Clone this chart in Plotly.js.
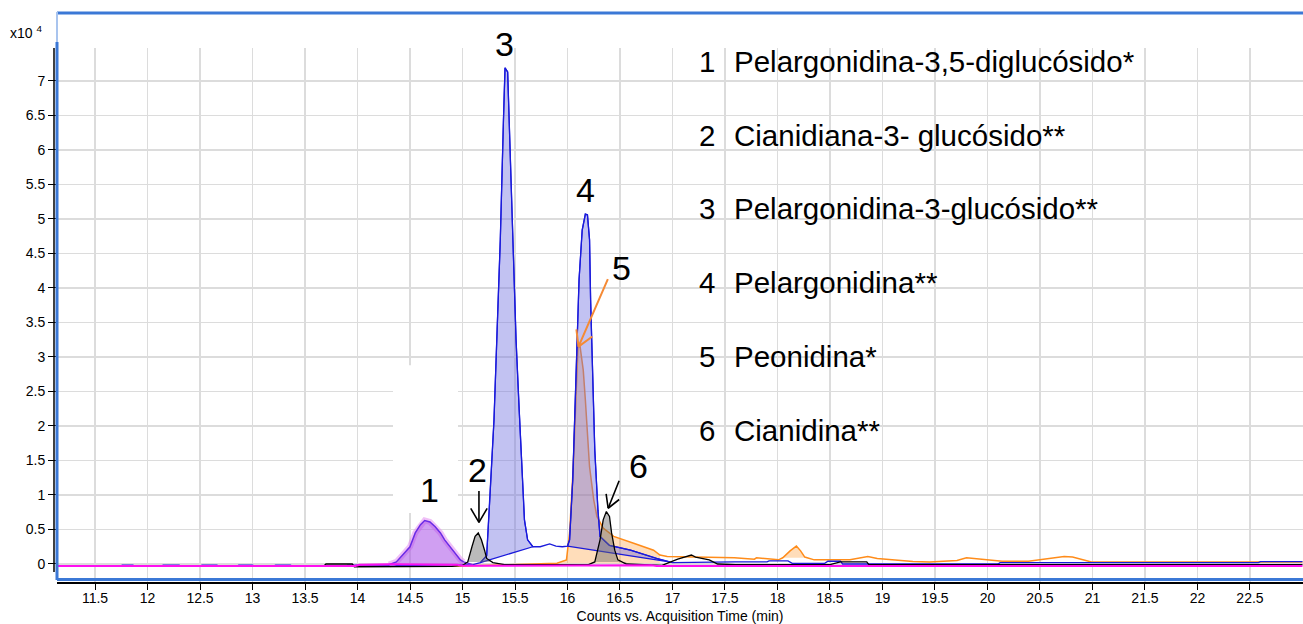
<!DOCTYPE html>
<html>
<head>
<meta charset="utf-8">
<script src="https://cdn.plot.ly/plotly-3.0.1.min.js"></script>
<style>
  html, body { margin: 0; padding: 0; background: #fff; }
  #chart { width: 1303px; height: 624px; }
</style>
</head>
<body>
<div id="chart"></div>
<script>
// Extracted-ion chromatograms: retention time (min) vs abundance (x10^4 counts)

// Pelargonidin-3,5-diglucoside channel (violet)
const timeViolet   = [13.90, 14.30, 14.37, 14.43, 14.50, 14.55, 14.60, 14.64, 14.69, 14.74, 14.79, 14.83, 14.88, 14.93, 14.98, 15.01, 15.10];
const countsViolet = [-0.02, -0.01, 0.03, 0.13, 0.25, 0.45, 0.57, 0.63, 0.61, 0.54, 0.45, 0.35, 0.25, 0.15, 0.06, 0.03, -0.01];

// Pelargonidin-3-glucoside / pelargonidin channel (blue)
const timeBlue   = [11.14, 11.74, 11.76, 11.86, 11.88, 12.13, 12.15, 12.30, 12.32, 12.50, 12.52, 12.66, 12.68, 12.85, 12.87, 13.00, 13.02, 13.20, 13.22, 13.36, 13.38, 14.00,
                    15.10, 15.17, 15.23, 15.26, 15.30, 15.33, 15.36, 15.39, 15.405, 15.43, 15.45, 15.48, 15.51, 15.54, 15.57, 15.59, 15.62, 15.67,
                    15.74, 15.83, 15.89, 15.95, 16.00, 16.02, 16.05, 16.08, 16.11, 16.14, 16.17, 16.19, 16.21, 16.22, 16.24, 16.26, 16.29, 16.31, 16.40, 16.60, 16.85, 16.97,
                    17.00, 17.59, 17.90, 17.92, 18.10, 18.14, 18.45, 18.48, 18.60, 18.62, 20.10, 20.12, 22.58, 22.60, 23.00];
const countsBlue = [-0.03, -0.03, -0.015, -0.015, -0.03, -0.03, -0.015, -0.015, -0.03, -0.03, -0.015, -0.015, -0.03, -0.03, -0.015, -0.015, -0.03, -0.03, -0.015, -0.015, -0.03, -0.03,
                    -0.01, 0.02, 0.12, 0.93, 2.09, 3.40, 4.70, 6.43, 7.19, 7.13, 6.14, 4.55, 3.25, 2.23, 1.20, 0.64, 0.35, 0.25,
                    0.25, 0.29, 0.26, 0.25, 0.26, 0.35, 1.22, 2.67, 4.12, 4.84, 5.07, 5.06, 4.70, 3.83, 2.67, 1.65, 0.78, 0.40, 0.27, 0.20, 0.08, 0.03,
                    0.02, 0.03, 0.03, 0.045, 0.045, 0.01, 0.01, 0.04, 0.04, 0.0, 0.0, 0.02, 0.02, 0.035, 0.035];

// Cyanidin-3-glucoside / cyanidin channel (black)
const timeBlack   = [11.14, 13.68, 13.70, 13.95, 13.97, 14.90, 15.00, 15.05, 15.09, 15.12, 15.15, 15.18, 15.21, 15.23, 15.29, 15.40, 15.90, 16.20,
                     16.26, 16.31, 16.34, 16.37, 16.40, 16.42, 16.45, 16.48, 16.56, 16.70, 16.90, 17.05, 17.18, 17.22, 17.35, 17.43, 17.60,
                     18.50, 18.60, 18.85, 18.87, 23.00];
const countsBlack = [-0.03, -0.03, 0.0, 0.0, -0.04, -0.035, -0.02, 0.03, 0.25, 0.40, 0.45, 0.35, 0.20, 0.08, 0.02, -0.01, -0.01, -0.01,
                     0.03, 0.35, 0.64, 0.76, 0.69, 0.45, 0.20, 0.06, 0.00, -0.01, -0.02, 0.07, 0.13, 0.10, 0.06, 0.00, -0.01,
                     -0.01, 0.03, 0.03, -0.01, -0.01];

// Peonidin channel (orange)
const timeOrange   = [11.14, 15.00, 15.90, 15.99, 16.02, 16.055, 16.08, 16.09, 16.10, 16.12, 16.15, 16.17, 16.19, 16.21, 16.25, 16.28, 16.34, 16.44,
                      16.63, 16.82, 16.88, 16.95, 17.59, 17.78, 17.80, 18.01, 18.05, 18.12, 18.18, 18.22, 18.26, 18.35, 18.69, 18.86, 18.95,
                      19.29, 19.45, 19.71, 19.80, 19.92, 20.14, 20.39, 20.56, 20.73, 20.81, 20.99, 23.00];
const countsOrange = [-0.03, -0.03, 0.01, 0.06, 0.45, 1.41, 2.38, 2.81, 3.14, 3.15, 2.81, 2.38, 1.90, 1.41, 0.93, 0.69, 0.52, 0.40,
                      0.30, 0.20, 0.13, 0.11, 0.09, 0.07, 0.09, 0.06, 0.09, 0.19, 0.26, 0.19, 0.10, 0.06, 0.06, 0.11, 0.08,
                      0.035, 0.03, 0.05, 0.09, 0.07, 0.04, 0.04, 0.07, 0.11, 0.10, 0.03, 0.03];

// Reference trace (magenta)
const timeMagenta   = [11.14, 13.98, 14.02, 14.30, 14.95, 15.00, 16.80, 16.85, 23.00];
const countsMagenta = [-0.03, -0.03, -0.01, -0.005, -0.01, -0.025, -0.02, -0.03, -0.03];

// Compound list
const peakNumbers = ['1', '2', '3', '4', '5', '6'];
const compoundNames = [
  'Pelargonidina-3,5-diglucósido*',
  'Cianidiana-3- glucósido**',
  'Pelargonidina-3-glucósido**',
  'Pelargonidina**',
  'Peonidina*',
  'Cianidina**'
];

// Axis ticks
const xTicks = [11.5, 12, 12.5, 13, 13.5, 14, 14.5, 15, 15.5, 16, 16.5, 17, 17.5, 18, 18.5, 19, 19.5, 20, 20.5, 21, 21.5, 22, 22.5];
const xTickText = ['11.5', '12', '12.5', '13', '13.5', '14', '14.5', '15', '15.5', '16', '16.5', '17', '17.5', '18', '18.5', '19', '19.5', '20', '20.5', '21', '21.5', '22', '22.5'];
const yTicks = [0, 0.5, 1, 1.5, 2, 2.5, 3, 3.5, 4, 4.5, 5, 5.5, 6, 6.5, 7];
const yTickText = ['0', '0.5', '1', '1.5', '2', '2.5', '3', '3.5', '4', '4.5', '5', '5.5', '6', '6.5', '7'];

// ---- helpers ----
const W = 1303, H = 624, ML = 57, MT = 48, MB = 42;
const plotW = W - ML, plotH = H - MT - MB;
const paperX = px => (px - ML) / plotW;
const paperY = py => (H - MB - py) / plotH;

// Integrated peak area between t0 and t1; 'slope' closes with a straight
// baseline between the end points, 'flat' drops to the starting level.
function peakArea(t, c, t0, t1, mode) {
  const xs = [], ys = [];
  t.forEach((v, i) => { if (v >= t0 && v <= t1) { xs.push(v); ys.push(c[i]); } });
  if (mode === 'flat') { xs.push(xs[xs.length - 1]); ys.push(ys[0]); }
  xs.push(xs[0]); ys.push(ys[0]);
  return { xs, ys };
}
function apex(t, c, t0, t1) {
  let best = null;
  t.forEach((v, i) => { if (v >= t0 && v <= t1 && (!best || c[i] > best.y)) best = { x: v, y: c[i] }; });
  return best;
}
function areaTrace(a, fill, lineColor, lineWidth) {
  return { type: 'scatter', mode: 'lines', x: a.xs, y: a.ys, fill: 'toself', fillcolor: fill,
           line: { color: lineColor || 'rgba(0,0,0,0)', width: lineWidth || 0 }, hoverinfo: 'skip' };
}
function lineTrace(x, y, color, width) {
  return { type: 'scatter', mode: 'lines', x, y, line: { color, width }, hoverinfo: 'skip' };
}

const BLUE = '#1a1adb', ORANGE = '#ff8c1a', VIOLET = '#6a2be6', MAGENTA = '#ff10f0';
const blueFill = 'rgba(110,110,225,0.42)';
const orangeFill = 'rgba(255,150,40,0.32)';
const grayFill = 'rgba(105,105,105,0.45)';

const p1 = peakArea(timeViolet, countsViolet, 14.30, 15.05, 'flat');
const p2 = peakArea(timeBlack, countsBlack, 15.04, 15.30, 'flat');
const p3 = peakArea(timeBlue, countsBlue, 15.17, 15.68, 'slope');
const p4 = peakArea(timeBlue, countsBlue, 15.99, 16.98, 'slope');
const p5 = peakArea(timeOrange, countsOrange, 15.89, 16.90, 'flat');
const p5b = peakArea(timeOrange, countsOrange, 18.04, 18.30, 'flat');
const p6 = peakArea(timeBlack, countsBlack, 16.25, 16.57, 'flat');

const traces = [
  areaTrace(p5, orangeFill),
  areaTrace(p5b, orangeFill),
  lineTrace(timeOrange, countsOrange, ORANGE, 1.5),
  areaTrace(p4, blueFill, BLUE, 1.2),
  areaTrace(p3, blueFill, BLUE, 1.2),
  lineTrace(timeBlue, countsBlue, BLUE, 1.3),
  lineTrace(p1.xs.slice(0, -2), p1.ys.slice(0, -2), 'rgba(228,140,240,0.55)', 6),
  areaTrace(p1, 'rgba(170,80,232,0.55)'),
  lineTrace(timeViolet, countsViolet, VIOLET, 1.5),
  areaTrace(p2, grayFill),
  areaTrace(p6, grayFill),
  lineTrace(timeBlack, countsBlack, '#000000', 1.3),
  lineTrace(timeMagenta, countsMagenta, MAGENTA, 2)
];

// ---- annotations ----
const FONT = 'Liberation Sans, Arial, Helvetica, sans-serif';
const annotations = [];

function label(pt, text, dx, dy) {
  annotations.push({ x: pt.x, y: pt.y, xref: 'x', yref: 'y', xshift: dx, yshift: dy, text, showarrow: false,
                     xanchor: 'center', yanchor: 'middle', font: { family: FONT, size: 34, color: '#000' } });
}
// arrow drawn as a shaft plus two arms forming an open head
function arrow(pt, dx, dy, ax, ay, armLen, half, color, width) {
  const base = { x: pt.x, y: pt.y, xref: 'x', yref: 'y', xshift: dx, yshift: dy, text: '', showarrow: true,
                 arrowhead: 0, arrowcolor: color, arrowwidth: width, standoff: 0 };
  annotations.push(Object.assign({}, base, { ax, ay }));
  const th = Math.atan2(ay, ax);
  [th + half, th - half].forEach(a => {
    annotations.push(Object.assign({}, base, { ax: armLen * Math.cos(a), ay: armLen * Math.sin(a) }));
  });
}

const a1 = apex(timeViolet, countsViolet, 14.3, 15.05);
const a2 = apex(timeBlack, countsBlack, 15.0, 15.3);
const a3 = apex(timeBlue, countsBlue, 15.2, 15.7);
const a4 = apex(timeBlue, countsBlue, 16.0, 16.5);
const a5 = apex(timeOrange, countsOrange, 15.9, 16.5);
const a6 = apex(timeBlack, countsBlack, 16.25, 16.6);

label(a1, peakNumbers[0], 5, 31);
label(a2, peakNumbers[1], -1, 63);
label(a3, peakNumbers[2], -1, 24);
label(a4, peakNumbers[3], 0, 24);
label(a5, peakNumbers[4], 41, 79);
label(a6, peakNumbers[5], 32, 46);

arrow(a2, 0.7, 10.5, 0, -33, 18, 0.53, '#000000', 1.6);
arrow(a6, 1.8, 3.3, 11.6, -29, 16, 0.52, '#000000', 1.6);
arrow(a5, -1.6, 0, 30, -69, 19, 0.53, '#f58a35', 2);

// compound list
const rowY = [62, 136, 209, 282, 356, 430];
peakNumbers.forEach((n, i) => {
  annotations.push({ xref: 'paper', yref: 'paper', x: paperX(697), y: paperY(rowY[i]), text: n, showarrow: false,
                     xanchor: 'left', yanchor: 'middle', font: { family: FONT, size: 29.5, color: '#000' } });
  annotations.push({ xref: 'paper', yref: 'paper', x: paperX(732), y: paperY(rowY[i]), text: compoundNames[i], showarrow: false,
                     xanchor: 'left', yanchor: 'middle', font: { family: FONT, size: 29.5, color: '#000' } });
});

// y-axis multiplier
annotations.push({ xref: 'paper', yref: 'paper', x: paperX(8), y: paperY(32), text: 'x10 <sup>4</sup>', showarrow: false,
                   xanchor: 'left', yanchor: 'middle', font: { family: FONT, size: 14, color: '#000' } });

// ---- frame ----
const BORDER = '#3b78d6';
const shapes = [
  { type: 'rect', xref: 'x', yref: 'y', x0: 14.338, x1: 14.957, y0: 0.74, y1: 2.88, fillcolor: '#ffffff', line: { width: 0 }, layer: 'between' },
  { type: 'line', xref: 'paper', yref: 'paper', x0: 0, x1: 1.05, y0: paperY(13), y1: paperY(13), line: { color: BORDER, width: 3 } },
  { type: 'line', xref: 'paper', yref: 'paper', x0: 0, x1: 1.05, y0: paperY(579.5), y1: paperY(579.5), line: { color: BORDER, width: 3 } },
  { type: 'line', xref: 'paper', yref: 'paper', x0: 0, x1: 0, y0: paperY(580), y1: paperY(42), line: { color: BORDER, width: 3 } },
  { type: 'line', xref: 'paper', yref: 'paper', x0: 0, x1: 0, y0: paperY(42), y1: paperY(12), line: { color: '#a9c4ee', width: 2 } },
  { type: 'line', xref: 'paper', yref: 'paper', x0: paperX(54), x1: paperX(54), y0: paperY(572), y1: 1, line: { color: '#000', width: 1.5 } }
];

const layout = {
  width: W, height: H,
  margin: { l: ML, r: 0, t: MT, b: MB, pad: 0 },
  paper_bgcolor: '#ffffff', plot_bgcolor: '#ffffff',
  showlegend: false,
  font: { family: FONT, size: 14, color: '#000' },
  xaxis: {
    range: [11.138, 23.005], tickmode: 'array', tickvals: xTicks, ticktext: xTickText,
    ticks: 'outside', ticklen: 6, tickwidth: 1, tickcolor: '#000', ticklabelstandoff: -3,
    showline: true, linecolor: '#000', linewidth: 1.5,
    showgrid: true, gridcolor: '#dcdcdc', gridwidth: 1.5, zeroline: false,
    tickfont: { family: FONT, size: 14, color: '#000' },
    title: { text: 'Counts vs. Acquisition Time (min)', font: { family: FONT, size: 14, color: '#000' }, standoff: 6 }
  },
  yaxis: {
    range: [-0.261, 7.478], tickmode: 'array', tickvals: yTicks, ticktext: yTickText,
    ticks: 'outside', ticklen: 8, tickwidth: 1, tickcolor: '#000',
    showline: false, showgrid: true, gridcolor: '#dcdcdc', gridwidth: 1.5, zeroline: false,
    tickfont: { family: FONT, size: 14, color: '#000' }
  },
  shapes, annotations
};

Plotly.newPlot('chart', traces, layout, { displayModeBar: false, staticPlot: true });
</script>
</body>
</html>
